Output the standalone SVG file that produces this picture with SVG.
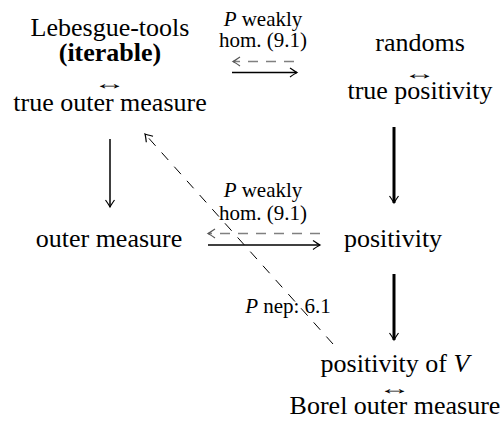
<svg xmlns="http://www.w3.org/2000/svg" width="503" height="423" viewBox="0 0 503 423">
<defs>
<marker id="ah" markerUnits="userSpaceOnUse" markerWidth="14" markerHeight="14" viewBox="-10 -7 14 14" refX="0" refY="0" orient="auto">
<path d="M -7 -4.5 Q -2 -1 0 0 Q -2 1 -7 4.5" fill="none" stroke="#000" stroke-width="1.2"/>
</marker>
<marker id="ahg" markerUnits="userSpaceOnUse" markerWidth="14" markerHeight="14" viewBox="-10 -7 14 14" refX="0" refY="0" orient="auto">
<path d="M -7 -4.5 Q -2 -1 0 0 Q -2 1 -7 4.5" fill="none" stroke="#555" stroke-width="1.2"/>
</marker>
</defs>
<style>
text{font-family:"Liberation Serif","Times New Roman",serif;fill:#000}
.n{font-size:26px;text-anchor:middle}
.a{font-size:18px;text-anchor:middle}
.l{font-size:21px;text-anchor:middle}
.it{font-style:italic}
.b{font-weight:bold}
.solid{stroke:#000;stroke-width:1.5;fill:none}
.thick{stroke:#000;stroke-width:3;fill:none}
.dg{stroke:#808080;stroke-width:1.6;stroke-dasharray:10 8;fill:none}
.dk{stroke:#000;stroke-width:1;stroke-dasharray:10 9;fill:none}
</style>
<g id="lebesgue">
<text class="n" x="110" y="36">Lebesgue-tools</text>
<text class="n b" x="110" y="61">(iterable)</text>
<text class="a" transform="translate(110 88.5) scale(1.8 1)">↔</text>
<text class="n" x="110" y="111">true outer measure</text>
</g>
<g id="randoms">
<text class="n" x="420" y="51">randoms</text>
<text class="a" transform="translate(420 79) scale(1.8 1)">↔</text>
<text class="n" x="420" y="99">true positivity</text>
</g>
<g id="outer">
<text class="n" x="109" y="247">outer measure</text>
</g>
<g id="positivity">
<text class="n" x="393" y="247">positivity</text>
</g>
<g id="positivityV">
<text class="n" x="395" y="372">positivity of <tspan class="it">V</tspan></text>
<text class="a" transform="translate(395 394) scale(1.8 1)">↔</text>
<text class="n" x="395" y="414">Borel outer measure</text>
</g>
<g id="connectors">
<line class="dg" x1="294" y1="61.5" x2="233" y2="61.5" marker-end="url(#ahg)"/>
<line class="solid" x1="232" y1="72.5" x2="297" y2="72.5" marker-end="url(#ah)"/>
<line class="dg" x1="320" y1="233.5" x2="208" y2="233.5" marker-end="url(#ahg)"/>
<line class="solid" x1="208" y1="245" x2="320" y2="245" marker-end="url(#ah)"/>
<line class="solid" x1="110" y1="139" x2="110" y2="207" marker-end="url(#ah)"/>
<line class="thick" x1="394" y1="127" x2="394" y2="203" marker-end="url(#ah)"/>
<line class="thick" x1="394" y1="274" x2="394" y2="340" marker-end="url(#ah)"/>
<line class="dk" x1="333" y1="344" x2="145" y2="134" marker-end="url(#ah)"/>
<text class="l" x="263" y="26"><tspan class="it">P</tspan> weakly</text>
<text class="l" x="263" y="47">hom. (9.1)</text>
<text class="l" x="263" y="197"><tspan class="it">P</tspan> weakly</text>
<text class="l" x="263" y="220">hom. (9.1)</text>
<text class="l" x="288" y="313"><tspan class="it">P</tspan> nep: 6.1</text>
</g>
</svg>
